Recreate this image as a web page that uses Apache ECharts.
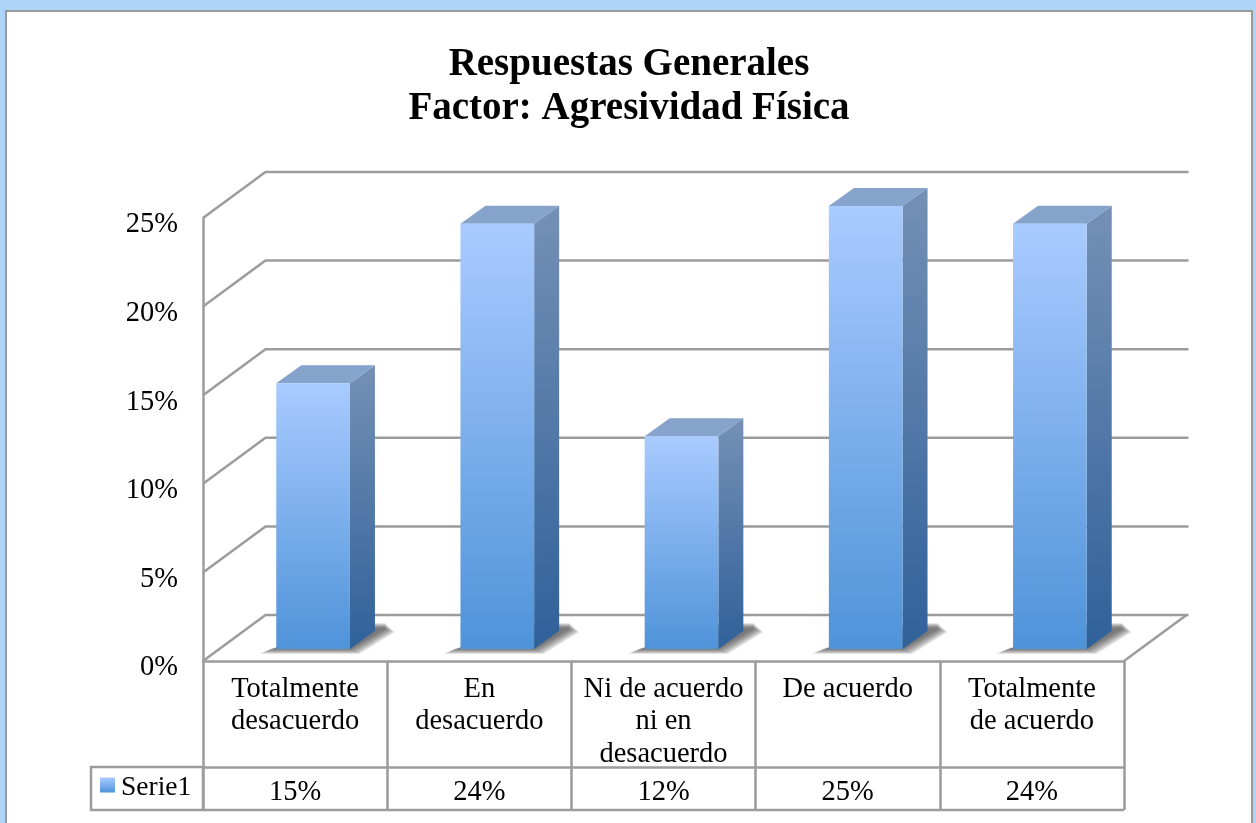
<!DOCTYPE html>
<html lang="es">
  <head>
    <meta charset="utf-8" />
    <title>Respuestas Generales</title>
    <script src="https://cdn.jsdelivr.net/npm/echarts@6/dist/echarts.min.js"></script>
    <style>
      html, body { margin: 0; padding: 0; background: #fff; }
      #chart { width: 1256px; height: 823px; }
    </style>
  </head>
  <body>
    <div id="chart"></div>
    <script>
      var categories = ['Totalmente\ndesacuerdo', 'En\ndesacuerdo', 'Ni de acuerdo\nni en\ndesacuerdo', 'De acuerdo', 'Totalmente\nde acuerdo']
      var values = [15, 24, 12, 25, 24]
      var yTicks = [0, 5, 10, 15, 20, 25]
      var valueLabels = ['15%', '24%', '12%', '25%', '24%']

      var font = '"Liberation Serif", serif'
      var lineColor = '#9c9c9c'
      // 3d look: wall depth and how far a bar sits behind the front edge
      var wall = { dx: 62.5, dy: -46 }
      var inset = { dx: 18, dy: -12 }
      var depth = { dx: 25, dy: -18 }

      function vgrad(a, b) {
        return new echarts.graphic.LinearGradient(0, 0, 0, 1, [{ offset: 0, color: a }, { offset: 1, color: b }])
      }

      function renderWalls(params, api) {
        var cs = params.coordSys
        var y = api.coord([0, api.value(0)])[1]
        var left = cs.x
        var right = cs.x + cs.width
        var style = { stroke: lineColor, lineWidth: 2.5, fill: null }
        var children = [
          { type: 'polyline', shape: { points: [[left, y], [left + wall.dx, y + wall.dy], [right + wall.dx + 2, y + wall.dy]] }, style: style }
        ]
        if (api.value(0) === 0) {
          children.push({ type: 'line', shape: { x1: right, y1: y, x2: right + wall.dx, y2: y + wall.dy }, style: style })
        }
        return { type: 'group', children: children }
      }

      function renderBar(params, api) {
        var top = api.coord([api.value(0), api.value(1)])
        var base = api.coord([api.value(0), 0])
        var w = api.size([1, 0])[0] * 0.4
        var x0 = top[0] - w / 2 + inset.dx
        var x1 = x0 + w
        var y0 = top[1] + inset.dy
        var y1 = base[1] + inset.dy
        var dx = depth.dx
        var dy = depth.dy
        var children = []
        // soft floor shadow, stacked see-through polygons since a blur is not enough here
        for (var k = 10; k >= 0; k--) {
          children.push({
            type: 'polygon',
            shape: {
              points: [
                [x0 - 7 - k, y1 + k / 2],
                [x1 + k, y1 + k / 2],
                [x1 + dx + 10 + k, y1 + dy - 2 + k / 3],
                [x1 + dx + 10, y1 + dy - 3 - k / 2],
                [x1 - k, y1 + dy - 3 - k / 2]
              ]
            },
            style: { fill: 'rgba(60,60,60,0.09)' }
          })
        }
        children.push(
          {
            type: 'polygon',
            shape: { points: [[x1, y0], [x1 + dx, y0 + dy], [x1 + dx, y1 + dy], [x1, y1]] },
            style: { fill: new echarts.graphic.LinearGradient(0, 0, 0.15, 1, [{ offset: 0, color: '#7590b6' }, { offset: 1, color: '#2f6199' }]) }
          },
          {
            type: 'polygon',
            shape: { points: [[x0, y0], [x0 + dx, y0 + dy], [x1 + dx, y0 + dy], [x1, y0]] },
            style: { fill: '#86a3cb' }
          },
          {
            type: 'rect',
            shape: { x: x0, y: y0, width: w, height: y1 - y0 },
            style: { fill: vgrad('#a9cbff', '#4f93d9') }
          }
        )
        return { type: 'group', children: children }
      }

      var chart = echarts.init(document.getElementById('chart'))
      chart.setOption({
        animation: false,
        backgroundColor: '#fff',
        textStyle: { fontFamily: font },
        title: {
          text: 'Respuestas Generales\nFactor: Agresividad Física',
          left: 624,
          top: 38,
          textAlign: 'center',
          textStyle: { fontFamily: font, fontSize: 39, fontWeight: 'bold', color: '#000', lineHeight: 44 }
        },
        legend: {
          data: ['Serie1'],
          left: 100,
          top: 774,
          padding: 0,
          icon: 'rect',
          itemWidth: 15,
          itemHeight: 15,
          itemGap: 0,
          selectedMode: false,
          formatter: '{a|{name}}',
          textStyle: { rich: { a: { fontFamily: font, fontSize: 27.5, color: '#000', padding: [6, 0, 0, 1] } } }
        },
        grid: { left: 203, top: 218, width: 921, height: 443 },
        xAxis: [
          {
            type: 'category',
            position: 'bottom',
            data: categories,
            axisLine: { lineStyle: { color: lineColor, width: 2.5 } },
            axisTick: { show: true, length: 149, lineStyle: { color: lineColor, width: 2.5 } },
            axisLabel: { interval: 0, margin: 12, fontFamily: font, fontSize: 28.5, color: '#000', lineHeight: 32.5, verticalAlign: 'top' }
          },
          {
            type: 'category',
            position: 'bottom',
            offset: 106,
            data: valueLabels,
            axisLine: { lineStyle: { color: lineColor, width: 2.5 } },
            axisTick: { show: false },
            axisLabel: { interval: 0, margin: 11, fontFamily: font, fontSize: 28.5, color: '#000', verticalAlign: 'top' }
          }
        ],
        yAxis: {
          type: 'value',
          min: 0,
          max: 25,
          interval: 5,
          axisLine: { show: true, lineStyle: { color: lineColor, width: 2.5 } },
          axisTick: { show: false },
          splitLine: { show: false },
          axisLabel: { margin: 25, formatter: '{value}%', fontFamily: font, fontSize: 28.5, color: '#000', verticalAlign: 'top', lineHeight: 14 }
        },
        graphic: [
          { type: 'rect', z: -10, shape: { x: 0, y: 0, width: 1256, height: 823 }, style: { fill: '#aed4f7' } },
          { type: 'rect', z: -9, shape: { x: 6, y: 11, width: 1246, height: 830 }, style: { fill: '#fff', stroke: '#9a9a9a', lineWidth: 2 } },
          // legend cell and the bottom edge of the table
          { type: 'rect', z: 1, shape: { x: 91, y: 767, width: 112, height: 43 }, style: { fill: null, stroke: lineColor, lineWidth: 2.5 } },
          { type: 'line', z: 1, shape: { x1: 203, y1: 810, x2: 1124, y2: 810 }, style: { stroke: lineColor, lineWidth: 2.5 } }
        ],
        series: [
          {
            type: 'custom',
            name: 'walls',
            silent: true,
            z: 1,
            data: yTicks.map(function (t) { return [t] }),
            encode: { y: 0 },
            renderItem: renderWalls
          },
          {
            type: 'custom',
            name: 'Serie1',
            z: 3,
            itemStyle: { color: vgrad('#a9cbff', '#4f93d9') },
            data: values.map(function (v, i) { return [i, v] }),
            encode: { x: 0, y: 1 },
            renderItem: renderBar
          }
        ]
      })
    </script>
  </body>
</html>
